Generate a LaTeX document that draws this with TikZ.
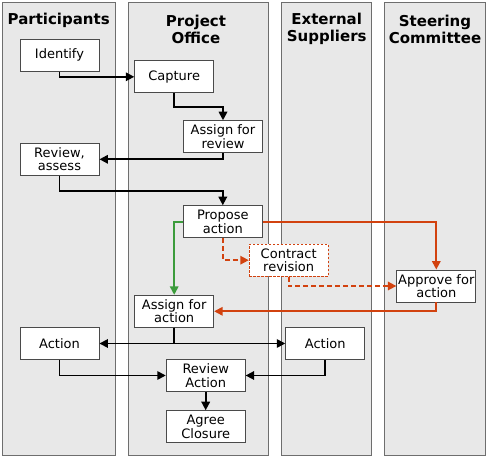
\documentclass[tikz,border=0pt]{standalone}
\usepackage{fontspec}
\setmainfont{DejaVu Sans}
\usetikzlibrary{arrows.meta}
\definecolor{lanefill}{HTML}{E8E8E8}
\definecolor{laneline}{HTML}{6E6E6E}
\definecolor{boxline}{HTML}{4A4A4A}
\definecolor{orng}{HTML}{D2420F}
\definecolor{grn}{HTML}{3C9C3C}
\tikzset{
  lane/.style={draw=laneline, fill=lanefill, line width=0.9pt},
  lanetitle/.style={font=\fontsize{15}{17}\selectfont\bfseries, align=center, inner sep=0pt},
  box/.style={draw=boxline, fill=white, line width=0.9pt, minimum width=79pt, minimum height=32pt,
    inner sep=0pt, align=center, font=\fontsize{13}{13.5}\selectfont},
  dashbox/.style={box, draw=orng, dashed, dash pattern=on 2.5pt off 1.5pt},
  flow/.style={draw=black, line width=1.7pt, -{Triangle[length=8.5pt,width=8.5pt]}},
  oflow/.style={draw=orng, line width=1.7pt, -{Triangle[length=8.5pt,width=8.5pt]}},
  odflow/.style={oflow, dashed, dash pattern=on 5pt off 3pt},
  gflow/.style={draw=grn, line width=1.7pt, -{Triangle[length=8.5pt,width=8.5pt]}},
}
\begin{document}
\begin{tikzpicture}[x=1pt,y=-1pt]
\useasboundingbox (0,0) rectangle (491,457);
% lanes
\draw[lane] (2,2) rectangle (115.5,455.5);
\draw[lane] (128.3,2) rectangle (268.3,455.5);
\draw[lane] (281.7,2) rectangle (371.7,455.5);
\draw[lane] (384.3,2) rectangle (485.7,455.5);
\node[lanetitle] (t1) at (58.7,20.5) {Participants};
\node[lanetitle] (t2) at (196,29) {Project\\Office};
\node[lanetitle] (t3) at (326.7,29) {External\\Suppliers};
\node[lanetitle] (t4) at (435,29) {Steering\\Committee};
% boxes
\node[box] (ident) at (59.5,55.3) {Identify};
\node[box] (capt) at (174.2,76.8) {Capture};
\node[box] (assrev) at (223,136.7) {Assign for\\review};
\node[box] (revass) at (59.5,159.3) {Review,\\assess};
\node[box] (prop) at (222.8,221.7) {Propose\\action};
\node[dashbox] (contr) at (288.7,260.2) {Contract\\revision};
\node[box] (appr) at (436.3,286) {Approve for\\action};
\node[box] (assact) at (174.2,311.3) {Assign for\\action};
\node[box] (actl) at (59.5,343.5) {Action};
\node[box] (actr) at (325.2,343.5) {Action};
\node[box] (reva) at (205.7,375.5) {Review\\Action};
\node[box] (agree) at (205.7,426.7) {Agree\\Closure};
% connectors
\draw[flow] (ident.south) |- (capt.west);
\draw[flow] (capt.south) -- ++(0,14) -| (assrev.north);
\draw[flow] (assrev.south) |- (revass.east);
\draw[flow] (revass.south) -- ++(0,15) -| (prop.north);
\draw[gflow] (prop.west) -| (assact.north);
\draw[odflow] (prop.south) |- (contr.west);
\draw[odflow] (contr.south) |- (appr.west);
\draw[oflow] (prop.east) -| (appr.north);
\draw[oflow] (appr.south) |- (assact.east);
\draw[flow] (assact.south) |- (actl.east);
\draw[flow] (assact.south) |- (actr.west);
\draw[flow] (actl.south) |- (reva.west);
\draw[flow] (actr.south) |- (reva.east);
\draw[flow] (reva.south) -- (agree.north);
\end{tikzpicture}
\end{document}
